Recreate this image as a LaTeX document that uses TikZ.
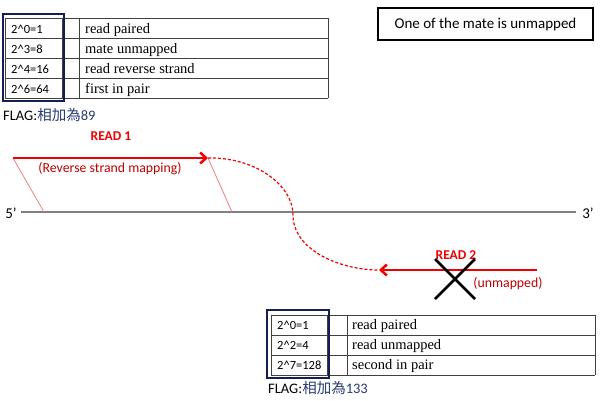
\documentclass[tikz,border=0pt]{standalone}
\usepackage{fontspec}
\setmainfont{Carlito}
\newfontfamily\tblserif{Liberation Serif}
\newfontfamily\cjkfont{Noto Sans CJK TC}
\usetikzlibrary{arrows.meta}
\definecolor{navy}{RGB}{20,30,80}
\definecolor{flagblue}{RGB}{40,60,115}
\definecolor{readred}{RGB}{240,0,0}
\definecolor{labred}{RGB}{192,0,0}
\definecolor{pinkline}{RGB}{240,130,130}
\tikzset{
  tbl/.style={line width=0.9pt, draw=black!75},
  cellnum/.style={anchor=base west, inner sep=0pt, font=\fontsize{12.5}{14}\selectfont},
  celltxt/.style={anchor=base west, inner sep=0pt, font=\tblserif\fontsize{14.5}{17}\selectfont},
  navybox/.style={draw=navy, line width=2.5pt},
  flagtxt/.style={anchor=base west, inner sep=0pt, font=\fontsize{14.5}{16}\selectfont},
  readlab/.style={anchor=base, inner sep=0pt, text=readred, font=\bfseries\fontsize{13.5}{16}\selectfont},
  sublab/.style={anchor=base, inner sep=0pt, text=labred, font=\fontsize{13.8}{16}\selectfont},
  endlab/.style={anchor=base, inner sep=0pt, font=\fontsize{15}{17}\selectfont},
  readarrow/.style={draw=readred, line width=2.5pt, -{Straight Barb[length=6pt,width=11pt]}},
  slant/.style={draw=pinkline, line width=0.8pt},
  dashcurve/.style={draw=readred, line width=1.2pt, dash pattern=on 3pt off 2pt},
  crossline/.style={draw=black, line width=2.5pt},
}
\begin{document}
\begin{tikzpicture}[x=1pt,y=-1pt]
\useasboundingbox (0,0) rectangle (600,400);
\fill[white] (0,0) rectangle (600,400);

% ---------- top table ----------
\foreach \yy in {18,38,58,78,98} \draw[tbl] (5,\yy) -- (328,\yy);
\foreach \xx in {5,62,79,328} \draw[tbl] (\xx,18) -- (\xx,98);
\node[cellnum] (t1a) at (11,33) {2\^{}0=1};
\node[cellnum] (t2a) at (11,53) {2\^{}3=8};
\node[cellnum] (t3a) at (11,73) {2\^{}4=16};
\node[cellnum] (t4a) at (11,93) {2\^{}6=64};
\node[celltxt] (t1b) at (85,33) {read paired};
\node[celltxt] (t2b) at (85,53) {mate unmapped};
\node[celltxt] (t3b) at (85,73) {read reverse strand};
\node[celltxt] (t4b) at (85,93) {first in pair};
\draw[navybox] (3,14) rectangle (64,101);
\node[flagtxt] (flag1) at (3,120) {FLAG:{\color{flagblue}\cjkfont 相加為}{\color{flagblue}89}};

% ---------- title box ----------
\node[draw=black, line width=1.4pt, minimum width=215pt, minimum height=32pt, inner sep=0pt,
      font=\fontsize{15}{17}\selectfont] (title) at (485.5,24) {One of the mate is unmapped};

% ---------- reference line ----------
\coordinate (l0) at (21,212);
\coordinate (l1) at (576,212);
\draw[draw=black!50, line width=1.2pt] (l0) -- (l1);
\node[endlab] (five) at (11,218) {5’};
\node[endlab] (three) at (588,218) {3’};

% ---------- read 1 ----------
\coordinate (r1s) at (13,158);
\coordinate (r1e) at (208,158);
\coordinate (m1) at (44,212);
\coordinate (m2) at (232,212);
\draw[slant] (r1s) -- (m1);
\draw[slant] (r1e) -- (m2);
\draw[readarrow] (r1s) -- (r1e);
\node[readlab] (read1) at (111,140) {READ 1};
\node[sublab] (rev) at (110,172.5) {(Reverse strand mapping)};

% ---------- dashed connection ----------
\coordinate (r2e) at (379,270);
\coordinate (r2s) at (537,270);
\draw[dashcurve] (r1e) .. controls (255,157) and (293,185) .. (293,215)
                       .. controls (293,250) and (340,270) .. (r2e);

% ---------- read 2 ----------
\draw[readarrow] (r2s) -- (r2e);
\node[readlab] (read2) at (456,259) {READ 2};
\coordinate (x1) at (435,259);
\coordinate (x2) at (475,299);
\coordinate (x3) at (475,259);
\coordinate (x4) at (435,299);
\draw[crossline] (x1) -- (x2);
\draw[crossline] (x3) -- (x4);
\node[sublab] (unm) at (508,287) {(unmapped)};

% ---------- bottom table ----------
\foreach \yy in {315,335,355,375} \draw[tbl] (271,\yy) -- (595,\yy);
\foreach \xx in {271,327,347,595} \draw[tbl] (\xx,315) -- (\xx,375);
\node[cellnum] (b1a) at (277,329.5) {2\^{}0=1};
\node[cellnum] (b2a) at (277,349.5) {2\^{}2=4};
\node[cellnum] (b3a) at (277,369.5) {2\^{}7=128};
\node[celltxt] (b1b) at (352,329.5) {read paired};
\node[celltxt] (b2b) at (352,349.5) {read unmapped};
\node[celltxt] (b3b) at (352,369.5) {second in pair};
\draw[navybox] (267,310) rectangle (329,378);
\node[flagtxt] (flag2) at (268,393) {FLAG:{\color{flagblue}\cjkfont 相加為}{\color{flagblue}133}};
\end{tikzpicture}
\end{document}
